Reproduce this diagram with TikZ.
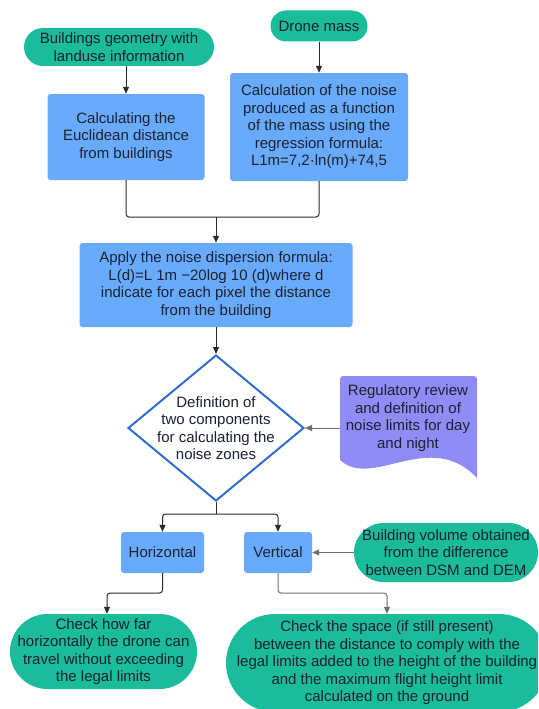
\documentclass[tikz,border=0pt]{standalone}
\usepackage{fontspec}
\setmainfont{Liberation Sans}
\usetikzlibrary{arrows.meta,shapes.geometric}
\definecolor{tealfill}{HTML}{1ABC9C}
\definecolor{bluefill}{HTML}{68ABFD}
\definecolor{purpfill}{HTML}{8F8CF6}
\definecolor{decline}{HTML}{2E6DD2}
\definecolor{txt}{HTML}{1C2130}
\definecolor{darkln}{HTML}{2A2A2A}
\definecolor{grayln}{HTML}{6E6E6E}
\tikzset{
  base/.style={text=txt, align=center, inner sep=0pt, font=\fontsize{15}{17.5}\selectfont},
  term/.style={base, fill=tealfill, draw=none},
  proc/.style={base, fill=bluefill, draw=none, rounded corners=3pt},
  conn/.style={draw=darkln, line width=1pt},
  connarr/.style={conn, -{Triangle[length=7pt,width=6pt]}},
  grayarr/.style={draw=grayln, line width=1pt, -{Triangle[length=7pt,width=6pt]}},
}
\begin{document}
\begin{tikzpicture}[x=1pt,y=-1pt]
\useasboundingbox (0,0) rectangle (538,709);
\clip (0,0) rectangle (538,709);

% terminals
\node[term, minimum width=190pt, minimum height=38pt, rounded corners=19pt] (bgeo) at (119,47)
  {Buildings geometry with\\landuse information};
\node[term, minimum width=97pt, minimum height=31pt, rounded corners=15.5pt] (drone) at (319,26)
  {Drone mass};

% process boxes
\node[proc, minimum width=157pt, minimum height=86pt] (calcd) at (126,137)
  {Calculating the\\Euclidean distance\\from buildings};
\node[proc, minimum width=178pt, minimum height=108pt] (calcn) at (319,127)
  {Calculation of the noise\\produced as a function\\of the mass using the\\regression formula:\\L1m=7,2·ln(m)+74,5};
\node[proc, minimum width=273pt, minimum height=84pt] (apply) at (216,285)
  {Apply the noise dispersion formula:\\L(d)=L 1m −20log 10 (d)where d\\indicate for each pixel the distance\\from the building};

% decision
\node[diamond, draw=decline, fill=white, line width=2pt, minimum width=176pt, minimum height=146pt, inner sep=0pt] (decd) at (216,428) {};
\node[base] (dect) at (216,428)
  {Definition of\\two components\\for calculating the\\noise zones};

% document shape
\fill[purpfill] (340,460) -- (340,379) [rounded corners=3pt] -- (340,376) -- (477,376) [sharp corners] -- (477,478)
  .. controls (430,428) and (372,490) .. (340,460) -- cycle;
\node[base] (doct) at (408,418)
  {Regulatory review\\and definition of\\noise limits for day\\and night};
\coordinate (docl) at (340,428);

% components
\node[proc, minimum width=83pt, minimum height=41pt] (horiz) at (162.5,552.5) {Horizontal};
\node[proc, minimum width=68pt, minimum height=41pt] (vert) at (278,552.5) {Vertical};
\node[term, minimum width=184pt, minimum height=59pt, rounded corners=29.5pt] (bvol) at (446,552.5)
  {Building volume obtained\\from the difference\\between DSM and DEM};

\node[term, minimum width=187pt, minimum height=75pt, rounded corners=37.5pt] (chkh) at (103.5,651.5)
  {Check how far\\horizontally the drone can\\travel without exceeding\\the legal limits};
\node[term, minimum width=322pt, minimum height=98pt, rounded corners=49pt] (chkv) at (387,663)
  {Check the space (if still present)\\between the distance to comply with the\\legal limits added to the height of the building\\and the maximum flight height limit\\calculated on the ground};

% connectors
\draw[connarr] (bgeo.south -| calcd.north) -- (calcd.north);
\draw[connarr] (drone.south) -- (calcn.north);
\coordinate (j1) at (216,217);
\draw[conn, rounded corners=3pt] (calcd.south) |- (j1) -| (calcn.south);
\draw[connarr] (j1) -- (apply.north);
\draw[connarr] (apply.south) -- (decd.north);
\draw[grayarr] (docl) -- (decd.east);
\coordinate (j2) at (216,514);
\draw[conn] (decd.south) -- (j2);
\draw[connarr, rounded corners=3pt] (j2) -| (horiz.north);
\draw[connarr, rounded corners=3pt] (j2) -| (vert.north);
\draw[grayarr] (bvol.west) -- (vert.east);
\coordinate (j3) at (107,593);
\draw[connarr, rounded corners=3pt] (horiz.south) |- (j3) -- (j3 |- chkh.north);
\coordinate (j4) at (387,593);
\draw[grayarr, rounded corners=3pt] (vert.south) |- (j4) -- (chkv.north);
\end{tikzpicture}
\end{document}
